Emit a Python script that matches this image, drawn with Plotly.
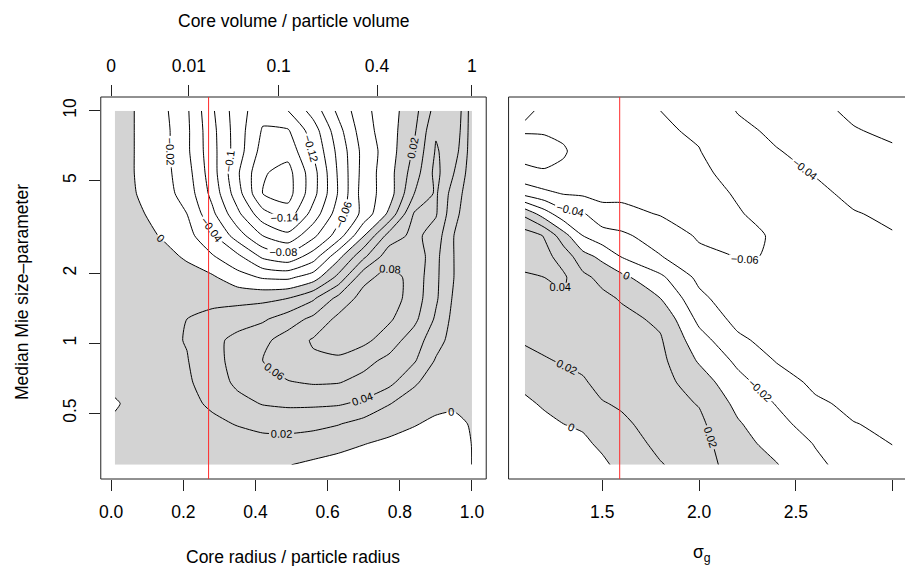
import plotly.graph_objects as go

# ---------------------------------------------------------------------------
# Grids
# ---------------------------------------------------------------------------
# core radius / particle radius (left panel, x)
CORE_RATIO = [0.01, 0.07, 0.14, 0.21, 0.28, 0.35, 0.42, 0.49, 0.56, 0.63,
              0.70, 0.77, 0.84, 0.90, 0.95, 1.00]
# median Mie size-parameter (y, both panels)
SIZE_PARAM = [0.3, 0.37, 0.45, 0.55, 0.68, 0.84, 1.03, 1.27, 1.56, 1.92,
              2.36, 2.9, 3.6, 4.4, 5.4, 6.7, 8.2, 10.0]
# geometric standard deviation sigma_g (right panel, x)
SIGMA_G = [1.1, 1.2, 1.3, 1.4, 1.5, 1.6, 1.8, 2.0, 2.2, 2.4, 2.6, 2.8, 3.0]

# left panel field, one row per SIZE_PARAM value (bottom to top)
Z_CORE = [
    [0.001, 0.003, 0.004, 0.005, 0.006, 0.006, 0.004, 0.0005, -0.003, -0.006, -0.008, -0.010, -0.012, -0.013, -0.012, 0.0002],
    [0.002, 0.004, 0.006, 0.008, 0.010, 0.012, 0.013, 0.012, 0.009, 0.005, 0.0005, -0.003, -0.006, -0.008, -0.007, 0.0003],
    [0.003, 0.005, 0.008, 0.012, 0.016, 0.021, 0.026, 0.028, 0.026, 0.021, 0.013, 0.006, 0.001, -0.003, -0.003, 0.001],
    [-0.002, 0.006, 0.010, 0.015, 0.023, 0.034, 0.041, 0.043, 0.043, 0.042, 0.036, 0.021, 0.010, 0.004, 0.002, 0.002],
    [0.005, 0.008, 0.012, 0.017, 0.030, 0.044, 0.052, 0.059, 0.062, 0.061, 0.054, 0.046, 0.023, 0.010, 0.004, 0.003],
    [0.006, 0.010, 0.014, 0.019, 0.034, 0.046, 0.060, 0.070, 0.077, 0.077, 0.066, 0.055, 0.042, 0.018, 0.008, 0.005],
    [0.008, 0.011, 0.015, 0.021, 0.034, 0.046, 0.055, 0.069, 0.082, 0.088, 0.085, 0.070, 0.050, 0.028, 0.012, 0.006],
    [0.010, 0.012, 0.015, 0.020, 0.026, 0.031, 0.037, 0.050, 0.065, 0.085, 0.090, 0.083, 0.065, 0.037, 0.014, 0.007],
    [0.011, 0.011, 0.012, 0.013, 0.014, 0.014, 0.015, 0.020, 0.037, 0.066, 0.088, 0.090, 0.071, 0.043, 0.017, 0.008],
    [0.010, 0.009, 0.008, 0.006, 0.003, -0.012, -0.022, -0.024, -0.010, 0.026, 0.074, 0.088, 0.073, 0.044, 0.020, 0.008],
    [0.010, 0.008, 0.005, -0.002, -0.018, -0.035, -0.064, -0.074, -0.050, -0.006, 0.036, 0.072, 0.076, 0.045, 0.020, 0.008],
    [0.010, 0.006, -0.001, -0.013, -0.036, -0.070, -0.100, -0.114, -0.085, -0.050, -0.001, 0.048, 0.066, 0.050, 0.020, 0.008],
    [0.009, 0.003, -0.006, -0.020, -0.055, -0.095, -0.133, -0.151, -0.112, -0.069, -0.033, 0.004, 0.062, 0.062, 0.025, 0.008],
    [0.009, 0.000, -0.011, -0.028, -0.066, -0.111, -0.160, -0.168, -0.127, -0.078, -0.030, -0.010, 0.040, 0.063, 0.030, 0.008],
    [0.009, -0.001, -0.012, -0.032, -0.071, -0.117, -0.158, -0.167, -0.128, -0.077, -0.032, -0.008, 0.030, 0.066, 0.040, 0.009],
    [0.009, -0.001, -0.012, -0.036, -0.073, -0.110, -0.148, -0.153, -0.118, -0.074, -0.033, -0.010, 0.023, 0.062, 0.050, 0.010],
    [0.009, -0.001, -0.012, -0.036, -0.074, -0.110, -0.142, -0.142, -0.110, -0.067, -0.028, -0.009, 0.017, 0.058, 0.056, 0.010],
    [0.009, -0.001, -0.014, -0.037, -0.077, -0.111, -0.133, -0.120, -0.092, -0.055, -0.025, -0.009, 0.013, 0.048, 0.060, 0.010],
]

# right panel field, one column per SIGMA_G value (bottom to top)
Z_SIGMA_COLUMNS = [
    [-0.014, -0.010, -0.007, -0.003, 0.004, 0.014, 0.022, 0.027, 0.033, 0.038, 0.046, 0.050, 0.015, -0.046, -0.076, -0.086, -0.079, -0.081],
    [-0.012, -0.008, -0.004, 0.002, 0.0105, 0.0185, 0.0245, 0.030, 0.035, 0.040, 0.046, 0.039, -0.010, -0.055, -0.079, -0.084, -0.079, -0.079],
    [-0.010, -0.006, 0.000, 0.007, 0.0144, 0.0215, 0.027, 0.032, 0.038, 0.043, 0.032, 0.008, -0.033, -0.061, -0.078, -0.081, -0.078, -0.077],
    [-0.010, -0.004, 0.003, 0.010, 0.0182, 0.024, 0.029, 0.032, 0.031, 0.025, 0.007, -0.020, -0.038, -0.063, -0.072, -0.076, -0.076, -0.075],
    [-0.004, 0.004, 0.011, 0.019, 0.025, 0.029, 0.031, 0.030, 0.025, 0.014, -0.005, -0.032, -0.052, -0.066, -0.070, -0.072, -0.072, -0.072],
    [0.006, 0.012, 0.017, 0.022, 0.027, 0.029, 0.029, 0.026, 0.018, 0.005, -0.021, -0.036, -0.055, -0.064, -0.067, -0.068, -0.068, -0.068],
    [0.019, 0.024, 0.027, 0.028, 0.027, 0.025, 0.022, 0.016, 0.000, -0.016, -0.039, -0.050, -0.061, -0.064, -0.065, -0.064, -0.062, -0.060],
    [0.028, 0.027, 0.024, 0.019, 0.010, -0.002, -0.012, -0.025, -0.035, -0.045, -0.056, -0.062, -0.064, -0.064, -0.063, -0.0605, -0.058, -0.055],
    [0.012, 0.007, 0.002, -0.005, -0.014, -0.024, -0.036, -0.046, -0.053, -0.058, -0.0605, -0.0615, -0.0608, -0.059, -0.055, -0.050, -0.045, -0.039],
    [0.001, -0.007, -0.014, -0.021, -0.031, -0.041, -0.048, -0.053, -0.056, -0.058, -0.0596, -0.0594, -0.056, -0.050, -0.046, -0.041, -0.036, -0.031],
    [-0.016, -0.021, -0.029, -0.037, -0.044, -0.049, -0.052, -0.054, -0.055, -0.055, -0.054, -0.052, -0.048, -0.044, -0.039, -0.034, -0.029, -0.024],
    [-0.028, -0.034, -0.0395, -0.044, -0.047, -0.049, -0.050, -0.050, -0.050, -0.049, -0.047, -0.044, -0.041, -0.036, -0.031, -0.026, -0.021, -0.017],
    [-0.036, -0.0403, -0.043, -0.045, -0.046, -0.047, -0.047, -0.047, -0.046, -0.045, -0.043, -0.041, -0.037, -0.032, -0.027, -0.022, -0.017, -0.013],
]
Z_SIGMA = [list(row) for row in zip(*Z_SIGMA_COLUMNS)]

# contour levels
LEVEL_START, LEVEL_END, LEVEL_STEP = -0.16, 0.08, 0.02

# reference settings marked in red
RED_CORE = 0.27
RED_SIGMA = 1.59

# axis ticks
CORE_TICKS = [0.0, 0.2, 0.4, 0.6, 0.8, 1.0]
CORE_TICK_TEXT = ["0.0", "0.2", "0.4", "0.6", "0.8", "1.0"]
VOLUME_TICKS = [0, 0.01, 0.1, 0.4, 1]
VOLUME_TICK_TEXT = ["0", "0.01", "0.1", "0.4", "1"]
SIGMA_TICKS = [1.5, 2.0, 2.5, 3.0]
SIGMA_TICK_TEXT = ["1.5", "2.0", "2.5", "3.0"]
SIZE_TICKS = [0.5, 1, 2, 5, 10]
SIZE_TICK_TEXT = ["0.5", "1", "2", "5", "10"]

# ---------------------------------------------------------------------------
# Layout geometry (pixels of a 905 x 566 page)
# ---------------------------------------------------------------------------
W, H = 905, 566
FONT = "Liberation Sans, Arial, Helvetica, sans-serif"
FS = 17.5
GRAY = "#d3d3d3"
FRAME = "#222222"

LEFT_X0, LEFT_X1 = 99 / W, 485.3 / W
RIGHT_X0, RIGHT_X1 = 507.7 / W, 1.0
Y0, Y1 = 1 - 479 / H, 1 - 97 / H

CORE_RANGE = [-0.0288, 1.0395]
SIGMA_RANGE = [1.016, 3.064]
LOG_Y_RANGE = [-0.584, 1.0589]

fig = go.Figure()


def add_panel(x, z, xa, ya):
    # grey shading where the field is positive (the constraint shades the
    # region that fails "< 0")
    fig.add_trace(go.Contour(
        x=x, y=SIZE_PARAM, z=z, xaxis=xa, yaxis=ya,
        contours=dict(type="constraint", operation="<", value=0),
        fillcolor=GRAY, line=dict(width=0, smoothing=0.6),
        showscale=False, hoverinfo="skip",
    ))
    # labelled contour lines
    fig.add_trace(go.Contour(
        x=x, y=SIZE_PARAM, z=z, xaxis=xa, yaxis=ya,
        autocontour=False,
        contours=dict(start=LEVEL_START, end=LEVEL_END + 1e-9, size=LEVEL_STEP,
                      coloring="none", showlabels=True,
                      labelfont=dict(family=FONT, size=11, color="black"),
                      labelformat=".2~f"),
        line=dict(color="black", width=1, smoothing=0.6),
        showscale=False, hoverinfo="skip",
    ))


add_panel(CORE_RATIO, Z_CORE, "x", "y")
add_panel(SIGMA_G, Z_SIGMA, "x2", "y2")

tick_font = dict(family=FONT, size=FS, color="black")
common = dict(showgrid=False, zeroline=False, showline=False, ticks="outside",
              ticklen=11, tickwidth=1, tickcolor=FRAME, tickfont=tick_font)

fig.update_layout(
    width=W, height=H,
    margin=dict(l=0, r=0, t=0, b=0),
    paper_bgcolor="white", plot_bgcolor="white",
    showlegend=False, hovermode=False,
    font=dict(family=FONT, size=FS, color="black"),
    xaxis=dict(domain=[LEFT_X0, LEFT_X1], range=CORE_RANGE, anchor="y",
               tickvals=CORE_TICKS, ticktext=CORE_TICK_TEXT,
               ticklabelstandoff=6, **common),
    xaxis3=dict(overlaying="x", side="top", anchor="y", range=CORE_RANGE,
                tickvals=[v ** (1 / 3) for v in VOLUME_TICKS],
                ticktext=VOLUME_TICK_TEXT, ticklabelstandoff=6, **common),
    yaxis=dict(domain=[Y0, Y1], type="log", range=LOG_Y_RANGE, anchor="x",
               tickvals=SIZE_TICKS, ticktext=SIZE_TICK_TEXT, tickangle=-90,
               ticklabelstandoff=6, **common),
    xaxis2=dict(domain=[RIGHT_X0, RIGHT_X1], range=SIGMA_RANGE, anchor="y2",
                tickvals=SIGMA_TICKS, ticktext=SIGMA_TICK_TEXT,
                ticklabelstandoff=6, **common),
    yaxis2=dict(domain=[Y0, Y1], type="log", range=LOG_Y_RANGE, anchor="x2",
                showgrid=False, zeroline=False, showline=False,
                showticklabels=False, ticks=""),
)

# empty trace so the top axis is bound to a trace
fig.add_trace(go.Scatter(x=[], y=[], xaxis="x3", yaxis="y", hoverinfo="skip"))

shapes = [
    dict(type="rect", xref="paper", yref="paper", x0=LEFT_X0, x1=LEFT_X1,
         y0=Y0, y1=Y1, line=dict(color=FRAME, width=1), layer="above"),
    dict(type="rect", xref="paper", yref="paper", x0=RIGHT_X0, x1=1.01,
         y0=Y0, y1=Y1, line=dict(color=FRAME, width=1), layer="above"),
    dict(type="line", xref="x", yref="paper", x0=RED_CORE, x1=RED_CORE,
         y0=Y0, y1=Y1, line=dict(color="#ff2a2a", width=1), layer="above"),
    dict(type="line", xref="x2", yref="paper", x0=RED_SIGMA, x1=RED_SIGMA,
         y0=Y0, y1=Y1, line=dict(color="#ff2a2a", width=1), layer="above"),
]
fig.update_layout(shapes=shapes)

title_font = dict(family=FONT, size=FS, color="black")
fig.update_layout(annotations=[
    dict(text="Core volume / particle volume", xref="paper", yref="paper",
         x=292 / W, y=1 - 21 / H, showarrow=False, font=title_font,
         xanchor="center", yanchor="middle"),
    dict(text="Core radius / particle radius", xref="paper", yref="paper",
         x=292 / W, y=1 - 557 / H, showarrow=False, font=title_font,
         xanchor="center", yanchor="middle"),
    dict(text="σ<sub>g</sub>", xref="paper", yref="paper",
         x=702 / W, y=1 - 553 / H, showarrow=False, font=title_font,
         xanchor="center", yanchor="middle"),
    dict(text="Median Mie size\u2013parameter", xref="paper", yref="paper",
         x=20 / W, y=1 - 292 / H, showarrow=False, font=title_font,
         textangle=-90, xanchor="center", yanchor="middle"),
])

fig.write_html("out.html")
